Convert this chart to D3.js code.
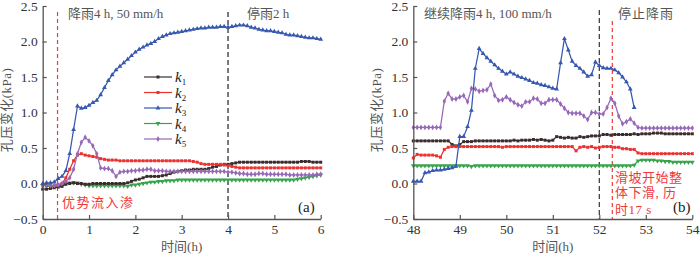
<!DOCTYPE html>
<html><head><meta charset="utf-8">
<script src="https://cdn.jsdelivr.net/npm/d3@7/dist/d3.min.js"></script>
<style>
body{margin:0;background:#fff;}
text{font-family:"Liberation Serif","Noto Sans CJK SC",serif;}
</style></head>
<body><svg id="c" width="700" height="254"></svg>
<script>
// ---- data (5-minute readings) ----
const stepH = 5/60;
const seriesNames = ["k1","k2","k3","k4","k5"];
const yTicks = [-0.5,0,0.5,1.0,1.5,2.0,2.5];
const leftXTicks = [0,1,2,3,4,5,6];
const rightXTicks = [48,49,50,51,52,53,54];

const leftK1 = [-0.08,-0.08,-0.07,-0.06,-0.05,-0.04,-0.01,0.00,0.01,0.00,
 0.00,-0.01,-0.01,0.00,0.00,0.00,0.00,0.00,0.00,0.00,
 0.00,0.00,0.01,0.03,0.05,0.06,0.08,0.10,0.10,0.10,
 0.10,0.11,0.12,0.14,0.16,0.17,0.18,0.19,0.19,0.20,
 0.20,0.20,0.20,0.21,0.23,0.24,0.26,0.27,0.27,0.28,
 0.29,0.30,0.30,0.30,0.30,0.30,0.30,0.30,0.30,0.30,
 0.30,0.30,0.30,0.30,0.30,0.30,0.30,0.31,0.31,0.31,
 0.30,0.30,0.30];
const leftK2 = [-0.02,-0.03,-0.03,-0.03,-0.02,0.00,0.08,0.20,0.32,0.40,
 0.42,0.40,0.39,0.38,0.37,0.35,0.34,0.33,0.33,0.33,
 0.32,0.32,0.32,0.32,0.32,0.32,0.32,0.32,0.32,0.32,
 0.32,0.32,0.32,0.32,0.32,0.32,0.32,0.32,0.32,0.31,
 0.30,0.28,0.27,0.27,0.27,0.27,0.27,0.26,0.25,0.24,
 0.23,0.22,0.22,0.22,0.22,0.22,0.22,0.22,0.22,0.22,
 0.22,0.22,0.22,0.22,0.22,0.22,0.22,0.22,0.22,0.22,
 0.22,0.22,0.22];
const leftK3 = [0.00,0.01,0.01,0.02,0.07,0.10,0.18,0.42,0.76,1.09,
 1.06,1.07,1.10,1.14,1.17,1.25,1.35,1.45,1.53,1.60,
 1.65,1.70,1.75,1.80,1.85,1.89,1.92,1.95,1.97,2.00,
 2.04,2.07,2.09,2.11,2.12,2.13,2.14,2.15,2.16,2.17,
 2.18,2.19,2.19,2.20,2.20,2.20,2.21,2.21,2.20,2.21,
 2.22,2.23,2.23,2.22,2.20,2.19,2.17,2.16,2.15,2.15,
 2.14,2.13,2.12,2.10,2.09,2.09,2.08,2.07,2.06,2.05,
 2.05,2.04,2.03];
const leftK4 = [-0.03,-0.03,-0.04,-0.04,-0.03,-0.02,0.00,0.01,0.01,0.01,
 -0.01,-0.02,-0.03,-0.03,-0.03,-0.03,-0.03,-0.03,-0.03,-0.03,
 -0.03,-0.03,-0.04,-0.02,-0.02,-0.01,0.00,0.01,0.02,0.02,
 0.03,0.03,0.04,0.04,0.04,0.05,0.05,0.05,0.05,0.05,
 0.05,0.05,0.05,0.05,0.05,0.05,0.05,0.05,0.05,0.05,
 0.05,0.05,0.05,0.05,0.05,0.05,0.05,0.05,0.05,0.05,
 0.05,0.05,0.05,0.05,0.05,0.05,0.06,0.07,0.08,0.09,
 0.10,0.11,0.12];
const leftK5 = [-0.02,-0.02,-0.03,-0.03,-0.02,0.00,0.03,0.08,0.20,0.42,
 0.58,0.65,0.60,0.53,0.42,0.22,0.21,0.21,0.18,0.10,
 0.16,0.17,0.17,0.18,0.18,0.19,0.19,0.20,0.20,0.18,
 0.18,0.18,0.17,0.17,0.17,0.17,0.17,0.17,0.17,0.17,
 0.17,0.17,0.17,0.17,0.17,0.17,0.17,0.17,0.16,0.16,
 0.15,0.14,0.14,0.13,0.13,0.13,0.14,0.14,0.13,0.13,
 0.13,0.13,0.13,0.13,0.12,0.12,0.12,0.12,0.12,0.12,
 0.12,0.13,0.13];

const rightK1 = [0.60,0.60,0.60,0.60,0.60,0.60,0.60,0.60,0.60,0.60,
 0.55,0.53,0.55,0.59,0.59,0.59,0.60,0.60,0.60,0.60,
 0.60,0.60,0.60,0.60,0.60,0.60,0.61,0.60,0.61,0.61,
 0.61,0.62,0.61,0.62,0.61,0.60,0.61,0.66,0.65,0.64,
 0.65,0.64,0.64,0.66,0.65,0.66,0.67,0.67,0.67,0.69,
 0.69,0.68,0.69,0.69,0.69,0.69,0.69,0.70,0.69,0.70,
 0.70,0.70,0.71,0.71,0.71,0.70,0.70,0.70,0.70,0.70,
 0.70,0.70,0.70];
const rightK2 = [0.36,0.41,0.40,0.40,0.40,0.40,0.39,0.37,0.48,0.51,
 0.52,0.52,0.52,0.52,0.52,0.52,0.52,0.52,0.52,0.52,
 0.52,0.52,0.52,0.51,0.52,0.52,0.52,0.52,0.52,0.52,
 0.52,0.52,0.52,0.52,0.52,0.52,0.52,0.52,0.52,0.52,
 0.52,0.52,0.46,0.51,0.52,0.51,0.52,0.50,0.51,0.52,
 0.52,0.52,0.51,0.51,0.49,0.49,0.48,0.48,0.43,0.42,
 0.42,0.42,0.42,0.42,0.42,0.42,0.42,0.42,0.42,0.42,
 0.42,0.42,0.42];
const rightK3 = [0.03,0.03,0.03,0.15,0.16,0.18,0.19,0.19,0.20,0.21,
 0.22,0.24,0.66,0.66,0.80,1.03,1.62,1.90,1.83,1.77,
 1.72,1.67,1.62,1.58,1.54,1.57,1.54,1.51,1.49,1.47,
 1.45,1.42,1.41,1.39,1.38,1.36,1.34,1.33,1.70,2.04,
 1.88,1.72,1.66,1.62,1.57,1.51,1.53,1.71,1.66,1.63,
 1.62,1.62,1.60,1.56,1.50,1.43,1.33,1.07];
const rightK4 = [0.25,0.25,0.25,0.25,0.25,0.25,0.25,0.25,0.25,0.25,
 0.25,0.25,0.25,0.25,0.25,0.24,0.25,0.25,0.25,0.25,
 0.25,0.25,0.25,0.25,0.25,0.25,0.25,0.25,0.25,0.25,
 0.25,0.25,0.25,0.25,0.25,0.25,0.25,0.25,0.25,0.25,
 0.25,0.25,0.25,0.25,0.25,0.25,0.25,0.25,0.25,0.25,
 0.25,0.25,0.25,0.25,0.25,0.25,0.25,0.26,0.32,0.33,
 0.33,0.33,0.33,0.32,0.32,0.31,0.31,0.30,0.30,0.30,
 0.30,0.30,0.30];
const rightK5 = [0.79,0.79,0.79,0.79,0.79,0.79,0.79,0.79,1.16,1.27,
 1.19,1.19,1.22,1.24,1.15,1.34,1.33,1.30,1.31,1.32,
 1.40,1.24,1.17,1.18,1.22,1.18,1.14,1.11,1.09,1.15,
 1.15,1.20,1.19,1.13,1.13,1.18,1.18,1.18,1.12,1.06,
 1.00,0.99,0.99,0.99,0.95,0.90,1.00,1.00,0.98,0.98,
 1.07,1.20,1.13,0.95,0.84,0.87,0.91,0.85,0.79,0.78,
 0.78,0.78,0.78,0.78,0.78,0.78,0.78,0.78,0.78,0.78,
 0.78,0.78,0.78];

const colors = {k1:"#3a2c2c",k2:"#ec3131",k3:"#3758b0",k4:"#37a34b",k5:"#9868b8"};

const svg = d3.select("#c");
const yScale = d3.scaleLinear().domain([-0.5,2.5]).range([219,6]);

const symbols = {
  k1: d3.symbol().type(d3.symbolSquare).size(9),
  k2: d3.symbol().type(d3.symbolSquare).size(9),
  k3: d3.symbol().type(d3.symbolTriangle).size(10),
  k4: d3.symbol().type(d3.symbolTriangle).size(10),
  k5: d3.symbol().type(d3.symbolDiamond).size(10)
};

function drawPanel(cfg){
  const g = svg.append("g");
  const x = d3.scaleLinear().domain(cfg.domain).range(cfg.range);
  cfg.vlines.forEach(v=>{
    g.append("line").attr("x1",x(v.t)).attr("x2",x(v.t))
     .attr("y1",v.top).attr("y2",219)
     .attr("stroke",v.color).attr("stroke-width",1.2)
     .attr("stroke-dasharray",v.dash);
  });
  cfg.series.forEach(s=>{
    const pts = s.values.map((v,i)=>[cfg.domain[0]+i*stepH, v]);
    const line = d3.line().x(d=>x(d[0])).y(d=>yScale(d[1]));
    g.append("path").attr("d",line(pts)).attr("fill","none")
     .attr("stroke",colors[s.name]).attr("stroke-width",1.25);
    g.selectAll(null).data(pts).enter().append("path")
     .attr("d",symbols[s.name]())
     .attr("transform",d=>`translate(${x(d[0])},${yScale(d[1])})${s.name==="k4"?" rotate(180)":""}`)
     .attr("fill",colors[s.name]);
  });
  const ax = g.append("g").attr("transform","translate(0,219)")
    .call(d3.axisBottom(x).tickValues(cfg.xticks).tickFormat(d3.format("d"))
      .tickSizeInner(-4).tickSizeOuter(0).tickPadding(5));
  const ay = g.append("g").attr("transform",`translate(${cfg.range[0]},0)`)
    .call(d3.axisLeft(yScale).tickValues(yTicks).tickFormat(d3.format(".1f"))
      .tickSizeInner(-4).tickSizeOuter(0).tickPadding(5));
  [ax,ay].forEach(a=>{
    a.select(".domain").attr("stroke","#555").attr("stroke-width",1.3);
    a.selectAll(".tick line").attr("stroke","#555").attr("stroke-width",1.2);
    a.selectAll("text").attr("fill","#333").attr("font-size","13.5px")
     .attr("font-family","Liberation Serif, serif");
  });
  g.append("text").attr("transform",`translate(${cfg.range[0]-32},110) rotate(-90)`)
   .attr("text-anchor","middle").attr("font-size","13px").attr("fill","#555")
   .attr("letter-spacing","0.5px")
   .text("孔压变化(kPa)");
  g.append("text").attr("x",(cfg.range[0]+cfg.range[1])/2).attr("y",251)
   .attr("text-anchor","middle").attr("font-size","13px").attr("fill","#555")
   .text("时间(h)");
  cfg.texts.forEach(t=>{
    g.append("text").attr("x",t.x).attr("y",t.y).attr("font-size",t.size||"13px")
     .attr("fill",t.color||"#555").attr("letter-spacing",t.ls||"0px").text(t.s);
  });
  return {g,x};
}

const L = drawPanel({
  domain:[0,6], range:[42.7,320.7], xticks:leftXTicks,
  vlines:[{t:0.32,color:"#ee3a3a",dash:"4,3",top:12},{t:4,color:"#222",dash:"5,3",top:12}],
  series:[{name:"k4",values:leftK4},{name:"k1",values:leftK1},{name:"k2",values:leftK2},
          {name:"k5",values:leftK5},{name:"k3",values:leftK3}],
  texts:[{s:"降雨4 h, 50 mm/h",x:68,y:18},{s:"停雨2 h",x:247,y:18},
         {s:"优势流入渗",x:62,y:207,color:"#ee3a3a",ls:"1.5px"},
         {s:"(a)",x:298,y:212,size:"15px",color:"#222"}]
});

drawPanel({
  domain:[48,54], range:[413.3,692.3], xticks:rightXTicks,
  vlines:[{t:52,color:"#333",dash:"5,3",top:10},{t:52.28,color:"#ee3a3a",dash:"4,3",top:21}],
  series:[{name:"k4",values:rightK4},{name:"k1",values:rightK1},{name:"k2",values:rightK2},
          {name:"k5",values:rightK5},{name:"k3",values:rightK3}],
  texts:[{s:"继续降雨4 h, 100 mm/h",x:424,y:18},{s:"停止降雨",x:618,y:18,ls:"1px"},
         {s:"滑坡开始整",x:615,y:182,color:"#ee3a3a",ls:"0.5px"},
         {s:"体下滑, 历",x:615,y:197,color:"#ee3a3a",ls:"0.5px"},
         {s:"时17 s",x:615,y:214,color:"#ee3a3a",ls:"0.5px"},
         {s:"(b)",x:673,y:212,size:"15px",color:"#222"}]
});

const legendRows = seriesNames.map((n,i)=>({name:n,y:77+i*15.5}));
const lg = L.g.append("g");
legendRows.forEach(r=>{
  lg.append("line").attr("x1",144).attr("x2",172).attr("y1",r.y).attr("y2",r.y)
    .attr("stroke",colors[r.name]).attr("stroke-width",1.2);
  lg.append("path").attr("d",symbols[r.name]())
    .attr("transform",`translate(158,${r.y})${r.name==="k4"?" rotate(180)":""}`)
    .attr("fill",colors[r.name]);
  const t = lg.append("text").attr("x",175).attr("y",r.y+5).attr("font-size","15px")
    .attr("fill","#222");
  t.append("tspan").attr("font-style","italic").text("k");
  t.append("tspan").attr("font-size","9px").attr("dy",3).text(r.name.slice(1));
});
</script></body></html>
